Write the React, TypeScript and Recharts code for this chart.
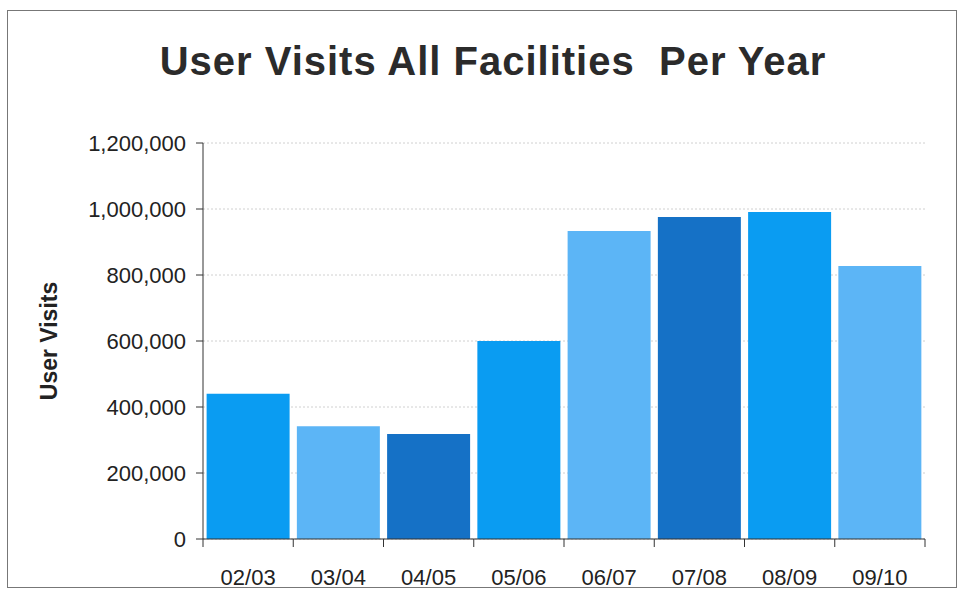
import React from 'react';
import { BarChart, Bar, XAxis, YAxis, CartesianGrid, Cell, Label } from 'recharts';

// values
const years = ['02/03', '03/04', '04/05', '05/06', '06/07', '07/08', '08/09', '09/10'];
const visits = [440000, 342000, 318000, 600000, 933000, 976000, 991000, 827000];
const yTicks = [0, 200000, 400000, 600000, 800000, 1000000, 1200000];
const boundaryTicks = [0, 1, 2, 3, 4, 5, 6, 7, 8];

const BRIGHT = '#0a9cf2';
const LIGHT = '#5cb5f6';
const DARK = '#1571c6';
const barColors = [BRIGHT, LIGHT, DARK, BRIGHT, LIGHT, DARK, BRIGHT, LIGHT];

const data = years.map((year, i) => ({ year, visits: visits[i], pos: i + 0.5 }));

const fmt = (v: number) => v.toLocaleString('en-US');

const font = '"Liberation Sans", Arial, sans-serif';

export default function App() {
    return (
        <div
            style={{
                position: 'absolute',
                left: 0,
                top: 0,
                width: 962,
                height: 593,
                background: '#fff',
                fontFamily: font,
            }}
        >
            {/* scanned page frame */}
            <div
                style={{
                    position: 'absolute',
                    left: 7,
                    top: 10,
                    width: 950,
                    height: 578,
                    border: '1px solid #777',
                    boxSizing: 'border-box',
                }}
            />
            <div
                style={{
                    position: 'absolute',
                    left: 0,
                    top: 38,
                    width: 986,
                    textAlign: 'center',
                    fontSize: 40,
                    fontWeight: 'bold',
                    letterSpacing: 1,
                    color: '#2b2b2b',
                    whiteSpace: 'pre',
                    lineHeight: '46px',
                }}
            >
                {'User Visits All Facilities  Per Year'}
            </div>
            <div style={{ position: 'absolute', left: 0, top: 0 }}>
                <BarChart
                    width={962}
                    height={593}
                    data={data}
                    margin={{ top: 143, right: 37, bottom: 23, left: 0 }}
                    barCategoryGap="4%"
                >
                    <CartesianGrid vertical={false} xAxisId={1} stroke="#d0d0d0" strokeDasharray="2 2" />
                    {/* boundary tick marks between categories, sits on the plot edge */}
                    <XAxis
                        xAxisId={0}
                        type="number"
                        dataKey="pos"
                        domain={[0, 8]}
                        ticks={boundaryTicks}
                        tickFormatter={() => ''}
                        tick={{ fontSize: 1 }}
                        tickSize={8}
                        tickLine={{ stroke: '#333' }}
                        axisLine={{ stroke: '#333' }}
                        height={1}
                    />
                    <XAxis
                        dataKey="year"
                        xAxisId={1}
                        tickLine={false}
                        axisLine={false}
                        tick={{ fill: '#222', fontSize: 22, fontFamily: font }}
                        tickMargin={23}
                        interval={0}
                        height={30}
                    />
                    <YAxis
                        width={203}
                        domain={[0, 1200000]}
                        ticks={yTicks}
                        tickFormatter={fmt}
                        tick={{ fill: '#222', fontSize: 22, fontFamily: font }}
                        tickSize={7}
                        tickMargin={10}
                        axisLine={{ stroke: '#333' }}
                        tickLine={{ stroke: '#333' }}
                    >
                        <Label
                            value="User Visits"
                            angle={-90}
                            position="center"
                            dx={-53}
                            style={{ fontSize: 23, fontWeight: 'bold', fill: '#222', fontFamily: font }}
                        />
                    </YAxis>
                    <Bar dataKey="visits" xAxisId={1} isAnimationActive={false}>
                        {data.map((d, i) => (
                            <Cell key={d.year} fill={barColors[i]} />
                        ))}
                    </Bar>
                </BarChart>
            </div>
        </div>
    );
}
